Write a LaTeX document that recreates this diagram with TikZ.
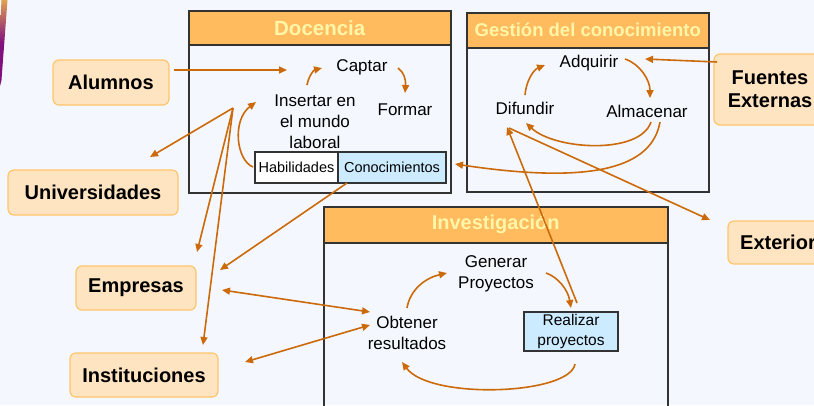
\documentclass[tikz,border=0pt]{standalone}
\usepackage{fontspec}
\setmainfont{Liberation Sans}
\usetikzlibrary{arrows.meta,calc}
\definecolor{bg}{HTML}{F4F8FE}
\definecolor{arr}{HTML}{CC6A0A}
\definecolor{hdrfill}{HTML}{FFBB5E}
\definecolor{hdrtext}{HTML}{FFF6A8}
\definecolor{extfill}{HTML}{FFE4C2}
\definecolor{extline}{HTML}{FFC56B}
\definecolor{lblue}{HTML}{CCEBFF}
\definecolor{frame}{HTML}{333333}
\definecolor{band}{HTML}{80107E}
\definecolor{bandtop}{HTML}{E0A050}
\begin{document}
\begin{tikzpicture}[x=1pt,y=1pt,
  hdr/.style={draw=frame,line width=1.5pt,fill=hdrfill,text=hdrtext,inner sep=0pt,anchor=north west},
  panel/.style={draw=frame,line width=1.5pt,inner sep=0pt,anchor=north west},
  ext/.style={draw=extline,fill=extfill,line width=1.2pt,rounded corners=6pt,font=\bfseries\fontsize{20}{23}\selectfont,align=center,inner sep=0pt},
  lbl/.style={font=\fontsize{17}{21}\selectfont,align=center,inner sep=0pt},
  cell/.style={draw=frame,line width=1.2pt,font=\fontsize{14.5}{18}\selectfont,inner sep=0pt,align=center},
  flow/.style={draw=arr,line width=1.6pt,-{Triangle[length=8pt,width=7pt]}},
  biflow/.style={draw=arr,line width=1.6pt,{Triangle[length=8pt,width=7pt]}-{Triangle[length=8pt,width=7pt]}},
  plainline/.style={draw=arr,line width=1.6pt}
]
\useasboundingbox (0,0) rectangle (814,-405);
\clip (0,0) rectangle (814,-405);
\fill[bg] (0,0) rectangle (814,-405);
\shade[top color=bandtop,bottom color=band,middle color=band] (1.5,0) -- (7.5,0) -- (1.5,-80) -- (0,-86) -- (0,-30) -- cycle;

% panels
\node[panel,minimum width=262pt,minimum height=182pt] (docpanel) at (188,-10) {};
\node[hdr,minimum width=262pt,minimum height=34pt,font=\bfseries\fontsize{20.5}{24}\selectfont] (dochd) at (188,-10) {Docencia};
\node[panel,minimum width=242pt,minimum height=179pt] (gespanel) at (466,-12) {};
\node[hdr,minimum width=242pt,minimum height=35pt,font=\bfseries\fontsize{18.5}{22}\selectfont] (geshd) at (466,-12) {Gestión del conocimiento};
\node[panel,minimum width=344pt,minimum height=230pt] (invpanel) at (323,-206) {};
\node[hdr,minimum width=344pt,minimum height=36pt,font=\bfseries\fontsize{20}{24}\selectfont] (invhd) at (323,-206) {Investigación};

% external nodes
\node[ext,minimum width=116pt,minimum height=45pt] (alumnos) at (111,-82.5) {Alumnos};
\node[ext,minimum width=170pt,minimum height=45pt] (univ) at (93,-192.5) {Universidades};
\node[ext,minimum width=120pt,minimum height=44pt] (empresas) at (136,-288) {Empresas};
\node[ext,minimum width=148pt,minimum height=44pt] (instit) at (144,-375) {Instituciones};
\node[ext,minimum width=112pt,minimum height=71pt] (fuentes) at (770,-89.5) {Fuentes\\Externas};
\node[ext,minimum width=100pt,minimum height=43pt] (exterior) at (778,-242.5) {Exterior};

% inner labels
\node[lbl] (captar) at (362,-67) {Captar};
\node[lbl] (insertar) at (315,-122) {Insertar en\\el mundo\\laboral};
\node[lbl] (formar) at (405,-110) {Formar};
\node[cell,fill=white,minimum width=83pt,minimum height=31pt] (habil) at (296.5,-167.5) {Habilidades};
\node[cell,fill=lblue,minimum width=108pt,minimum height=31pt] (conoc) at (392,-167.5) {Conocimientos};
\node[lbl] (adquirir) at (589,-63) {Adquirir};
\node[lbl] (difundir) at (525,-108) {Difundir};
\node[lbl] (almacenar) at (647,-111) {Almacenar};
\node[lbl] (generar) at (496,-273.5) {Generar\\Proyectos};
\node[lbl] (obtener) at (407,-332.5) {Obtener\\resultados};
\node[cell,fill=lblue,minimum width=94pt,minimum height=39pt,font=\fontsize{15.5}{20}\selectfont] (realizar) at (571,-331.5) {Realizar\\proyectos};

\coordinate (fan) at ($(insertar)+(-82,14)$);

% connectors: Docencia
\draw[flow] ($(alumnos)+(63,12.5)$) -- ($(captar)+(-75,-3)$);
\draw[flow] ($(insertar)+(-8,37)$) .. controls +(2,10) and +(-8,-2) .. ($(captar)+(-40,-1)$);
\draw[flow] ($(captar)+(36,-1)$) .. controls +(6,-4) and +(1,13) .. ($(formar)+(0,17)$);
\draw[flow] ($(habil)+(-43.5,0.5)$) .. controls +(-17,7) and +(-24,-18) .. ($(insertar)+(-59,20)$);
\draw[flow] (fan) -- ($(univ)+(57,35.5)$);
\draw[flow] (fan) -- ($(empresas)+(61,36)$);
\draw[flow] (fan) -- ($(instit)+(59,30)$);
\draw[flow] ($(conoc)+(-45,-15.5)$) -- ($(empresas)+(84,18)$);
\draw[biflow] ($(empresas)+(86,-2)$) -- ($(obtener)+(-37,20.5)$);
\draw[biflow] ($(instit)+(101,13)$) -- ($(obtener)+(-37,7.5)$);

% connectors: Gestion
\draw[flow] ($(difundir)+(0,13)$) .. controls +(1,13) and +(-12,-5) .. ($(adquirir)+(-44,-2)$);
\draw[flow] ($(adquirir)+(36,4)$) .. controls +(15,-5) and +(0,18) .. ($(almacenar)+(3,13)$);
\draw[flow] ($(almacenar)+(4,-11)$) .. controls +(-11,-33) and +(29,-27) .. ($(difundir)+(1,-15)$);
\draw[flow] ($(almacenar)+(13,-11)$) .. controls +(-8,-45) and +(140,-21) .. ($(conoc)+(63,3.5)$);
\draw[flow] ($(fuentes)+(-53,27.5)$) -- ($(adquirir)+(56,4)$);
\draw[flow] ($(difundir)+(-16,-20)$) -- ($(exterior)+(-68,22.5)$);
\draw[flow] ($(realizar)+(6,28.5)$) -- ($(difundir)+(-18,-19)$);

% connectors: Investigacion
\draw[flow] ($(obtener)+(0,24.5)$) .. controls +(3,18) and +(-22,-5) .. ($(generar)+(-49,0.5)$);
\draw[flow] ($(generar)+(50,0.5)$) .. controls +(12,-4) and +(-3,18) .. ($(realizar)+(0,23.5)$);
\draw[flow] ($(realizar)+(4,-32.5)$) .. controls +(-5,-31) and +(28,-38) .. ($(obtener)+(-5,-29.5)$);
\end{tikzpicture}
\end{document}
